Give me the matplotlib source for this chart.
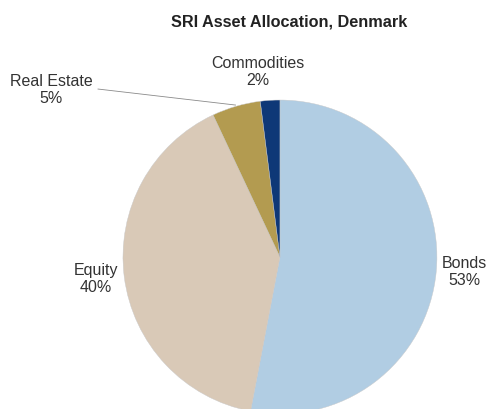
import matplotlib
matplotlib.use("Agg")
import matplotlib.pyplot as plt

categories = ["Bonds", "Equity", "Real Estate", "Commodities"]
values = [53, 40, 5, 2]
colors = ["#b1cde3", "#d9c9b7", "#b39b50", "#0e3877"]

plt.rcParams['font.family'] = ['Liberation Sans', 'DejaVu Sans']

fig = plt.figure(figsize=(4.89, 4.09), dpi=100)
ax = fig.add_axes([0.2515, -0.0122, 0.642, 0.7677])
wedges, _ = ax.pie(values, colors=colors, startangle=90, counterclock=False,
                   wedgeprops=dict(edgecolor="#c8c8c8", linewidth=0.3))
ax.set_xlim(-1, 1)
ax.set_ylim(-1, 1)
ax.set_aspect('equal')
for w in wedges:
    w.set_clip_on(False)

label_pos = {
    "Bonds": (1.178, -0.096),
    "Equity": (-1.172, -0.14),
    "Real Estate": (-1.459, 1.064),
    "Commodities": (-0.14, 1.178),
}
tc = "#333333"
for cat, v in zip(categories, values):
    x, y = label_pos[cat]
    ax.text(x, y, f"{cat}\n{v}%", ha="center", va="center", fontsize=11.5,
            color=tc, linespacing=1.12, clip_on=False)

ax.plot([-1.159, -0.283], [1.070, 0.968], color="#8a8a8a", lw=0.6, clip_on=False)

fig.text(289 / 489, 1 - 22 / 409, "SRI Asset Allocation, Denmark", ha="center",
         va="center", fontsize=11.7, fontweight="bold", color="#222222")

fig.savefig("out.png", dpi=100)
